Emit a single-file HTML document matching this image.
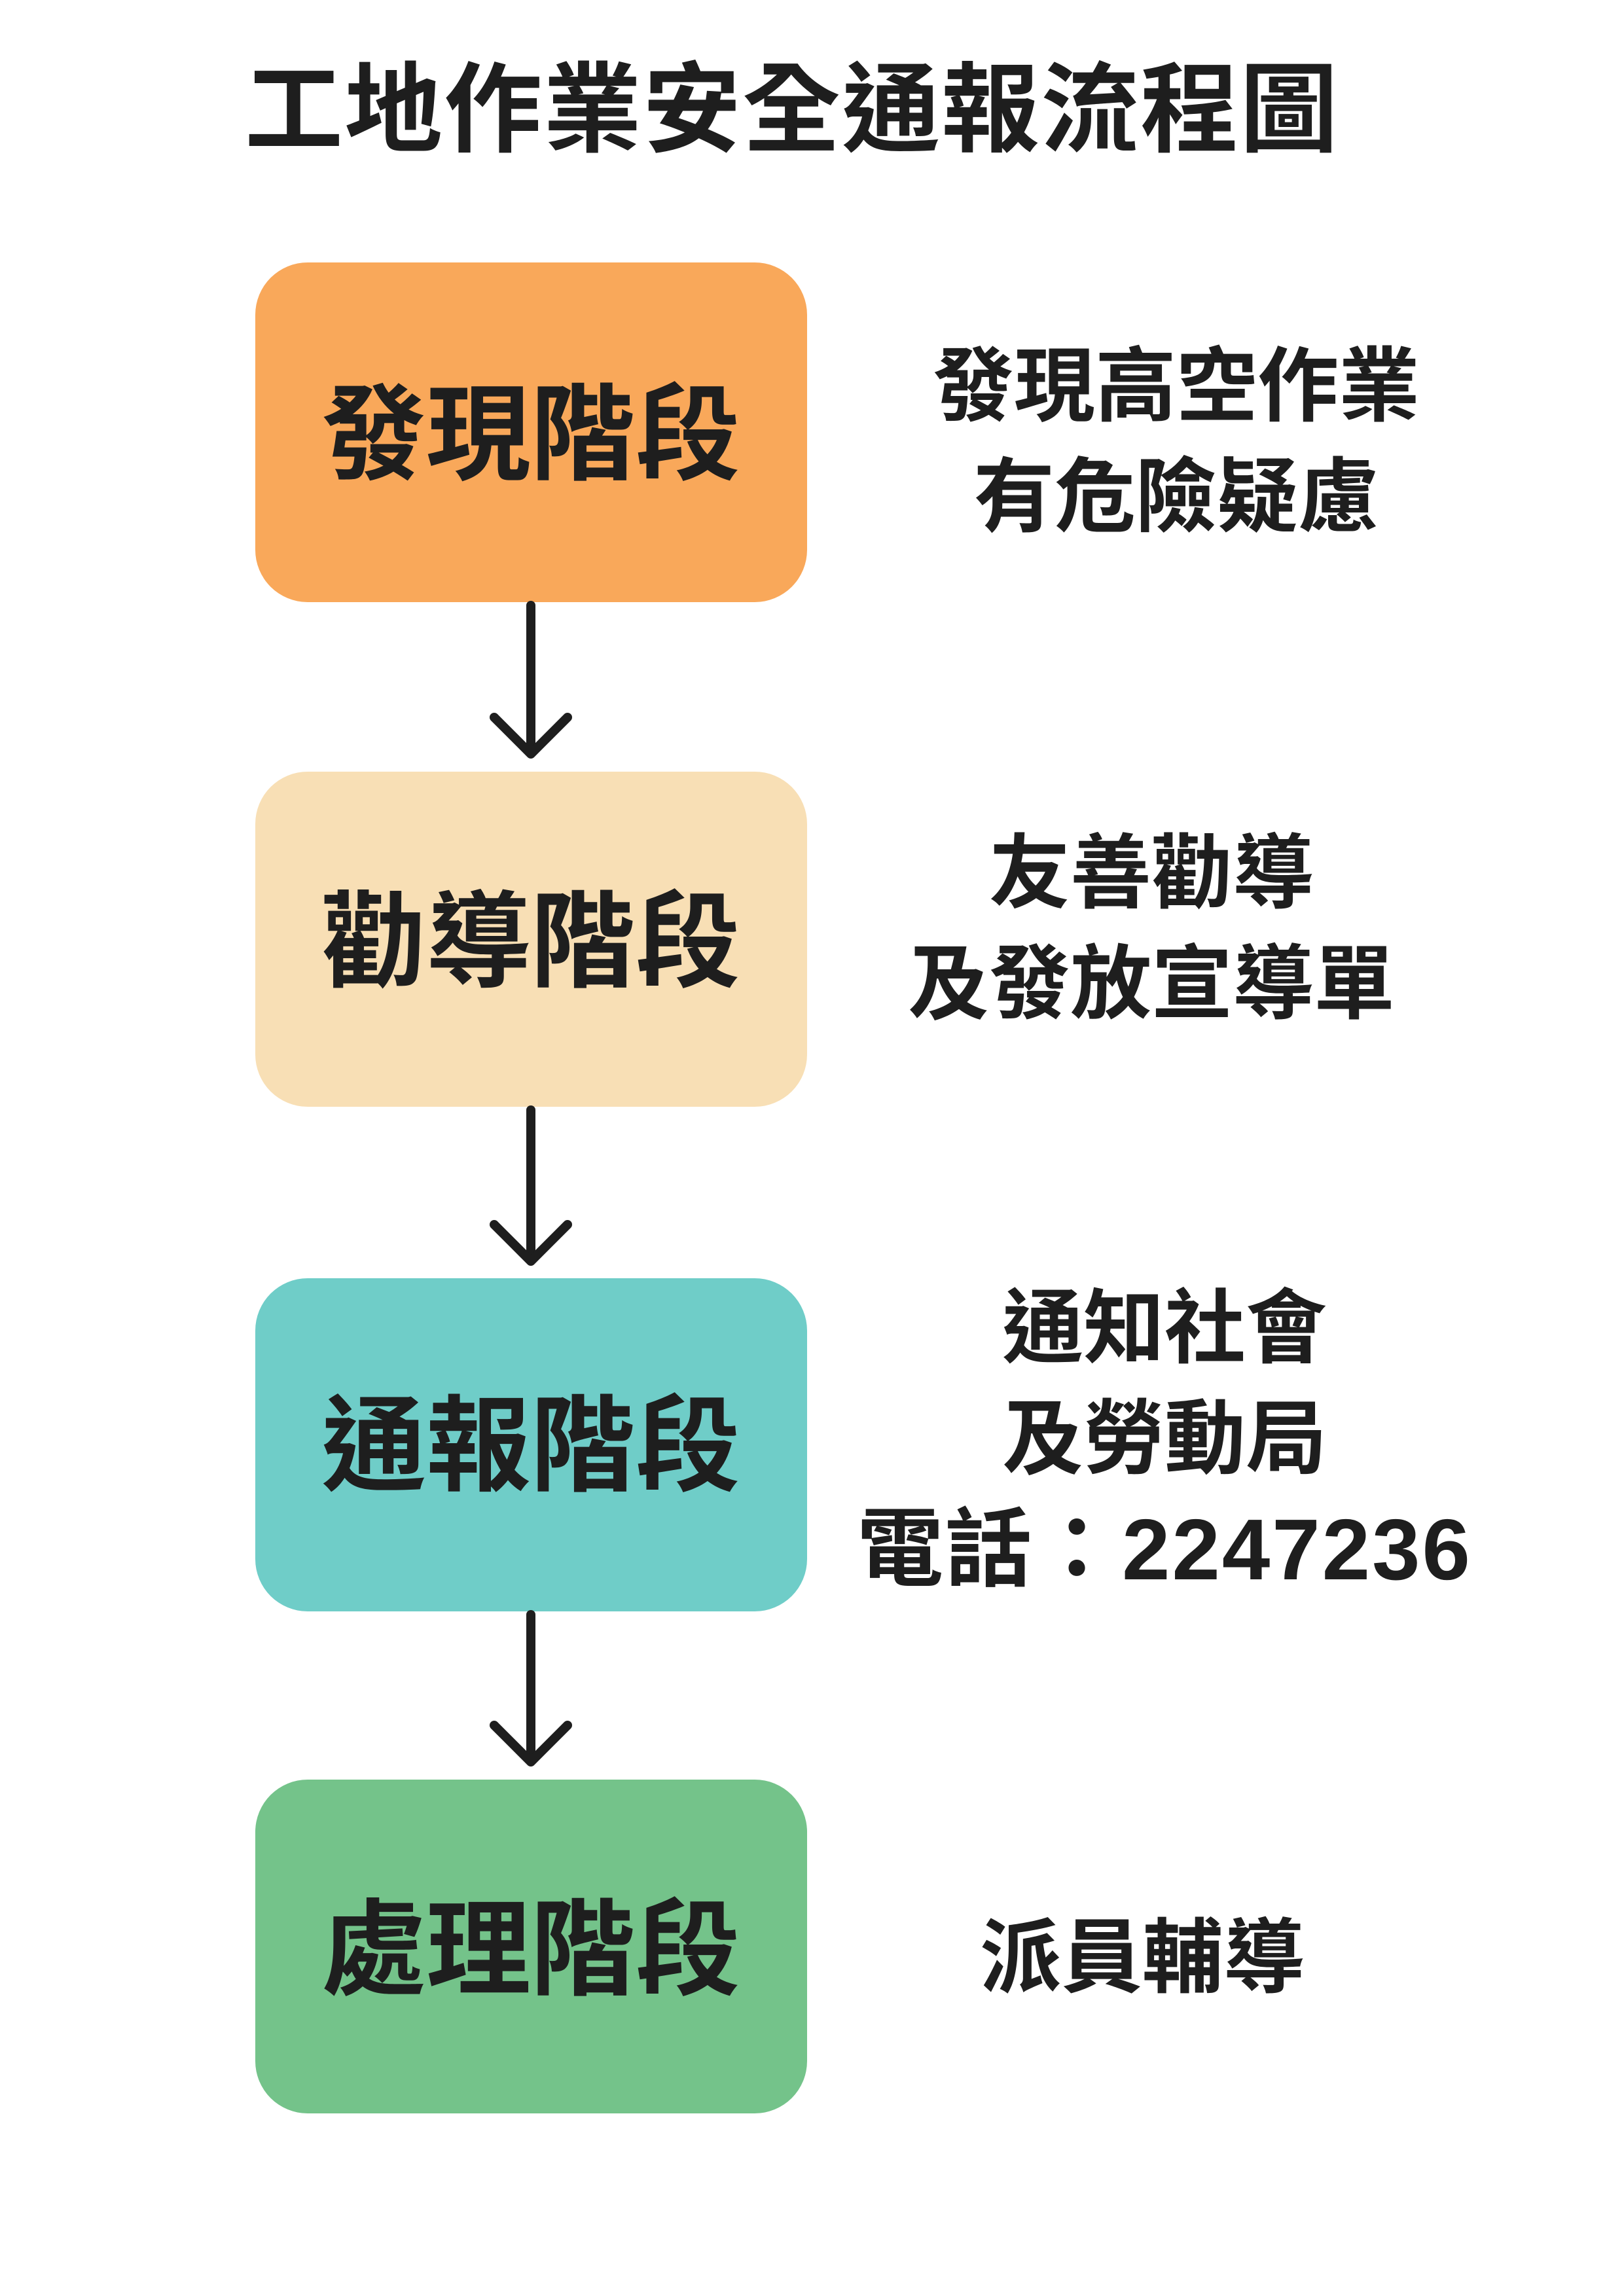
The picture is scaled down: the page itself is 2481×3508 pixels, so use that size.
<!DOCTYPE html>
<html><head><meta charset="utf-8">
<style>
html,body{margin:0;padding:0;background:#fff;}
body{width:2481px;height:3508px;position:relative;overflow:hidden;font-family:"Liberation Sans","Noto Sans CJK TC",sans-serif;color:#1e1e1e;}
.t{position:absolute;white-space:nowrap;font-weight:700;text-align:center;transform:translate(-50%,-50%);line-height:1;}
.box{position:absolute;left:390px;width:843px;border-radius:80px;}
.bt{position:absolute;left:811px;font-size:160px;}
.r{font-size:124px;}
</style></head><body>
<div class="t" style="left:1210px;top:168px;font-size:150px;letter-spacing:2px;">工地作業安全通報流程圖</div>

<div class="box" style="top:401px;height:519px;background:#F9A85A;"></div>
<div class="box" style="top:1179px;height:512px;background:#F8DFB5;"></div>
<div class="box" style="top:1953px;height:509px;background:#6FCDC8;"></div>
<div class="box" style="top:2719px;height:510px;background:#74C38A;"></div>

<div class="t bt" style="top:665px;">發現階段</div>
<div class="t bt" style="top:1440px;">勸導階段</div>
<div class="t bt" style="top:2210px;">通報階段</div>
<div class="t bt" style="top:2980px;">處理階段</div>

<svg width="2481" height="3508" style="position:absolute;left:0;top:0" fill="none" stroke="#1e1e1e" stroke-width="14" stroke-linecap="round" stroke-linejoin="round">
<line x1="811" y1="925" x2="811" y2="1150"/><polyline points="755,1096 811,1152 867,1096"/>
<line x1="811" y1="1696" x2="811" y2="1925"/><polyline points="755,1871 811,1927 867,1871"/>
<line x1="811" y1="2467" x2="811" y2="2690"/><polyline points="755,2636 811,2692 867,2636"/>
</svg>

<div class="t r" style="left:1797px;top:591px;">發現高空作業</div>
<div class="t r" style="left:1797px;top:760px;">有危險疑慮</div>
<div class="t r" style="left:1759px;top:1335px;">友善勸導</div>
<div class="t r" style="left:1759px;top:1504px;">及發放宣導單</div>
<div class="t r" style="left:1779px;top:2030px;">通知社會</div>
<div class="t r" style="left:1779px;top:2199px;">及勞動局</div>
<div class="t r" style="left:1779px;top:2368px;font-size:132px;letter-spacing:3px;">電話：2247236</div>
<div class="t r" style="left:1745px;top:2992px;">派員輔導</div>
</body></html>
